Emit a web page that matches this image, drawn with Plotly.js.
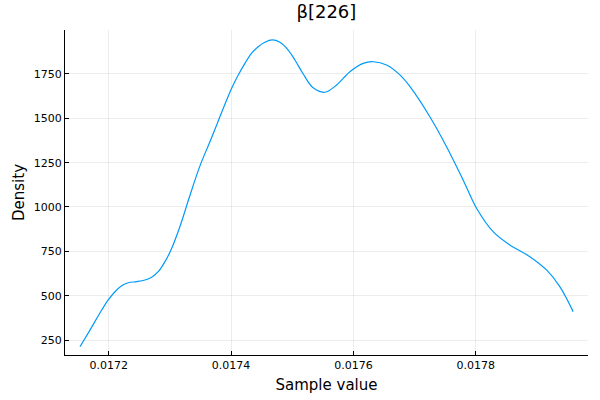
<!DOCTYPE html>
<html>
<head>
<meta charset="utf-8">
<script src="https://cdn.plot.ly/plotly-3.0.1.min.js"></script>
<style>body{margin:0;padding:0;}#plot{width:600px;height:400px;}</style>
</head>
<body>
<div id="plot"></div>
<script>
// sample values (x) and density estimates
var sampleValue = [0.0171531, 0.0171694, 0.0171886, 0.0171993, 0.0172103, 0.0172212,
  0.0172320, 0.0172458, 0.0172593, 0.0172703, 0.0172810, 0.0172920, 0.0173018,
  0.0173165, 0.0173328, 0.0173492, 0.0173655, 0.0174010, 0.0174118, 0.0174227,
  0.0174337, 0.0174444, 0.0174554, 0.0174673, 0.0174799, 0.0174935, 0.0175044,
  0.0175180, 0.0175343, 0.0175534, 0.0175726, 0.0175943, 0.0176160, 0.0176324,
  0.0176543, 0.0176760, 0.0176923, 0.0177250, 0.0177523, 0.0177794, 0.0178013,
  0.0178284, 0.0178557, 0.0178884, 0.0179157, 0.0179374, 0.0179592];
var density = [212, 306, 419, 476, 522, 556,
  573, 579, 588, 604, 635, 692, 757,
  890, 1065, 1232, 1368, 1669, 1744, 1810,
  1867, 1904, 1929, 1942, 1929, 1885, 1829,
  1750, 1672, 1647, 1688, 1763, 1810, 1819,
  1801, 1745, 1680, 1509, 1340, 1152, 993,
  861, 786, 720, 645, 551, 410];
var xTicks = [0.0172, 0.0174, 0.0176, 0.0178];
var yTicks = [250, 500, 750, 1000, 1250, 1500, 1750];

var trace = {
  x: sampleValue,
  y: density,
  type: 'scatter',
  mode: 'lines',
  line: {color: '#009AFA', width: 1.2, shape: 'spline', smoothing: 1},
  hoverinfo: 'x+y'
};

var axisCommon = {
  showline: true,
  linecolor: '#000',
  linewidth: 1,
  mirror: false,
  ticks: 'inside',
  ticklen: 4,
  tickcolor: '#000',
  showgrid: true,
  gridcolor: 'rgba(0,0,0,0.07)',
  gridwidth: 1,
  zeroline: false,
  tickfont: {family: 'DejaVu Sans', size: 11, color: '#000'}
};

var layout = {
  width: 600,
  height: 400,
  paper_bgcolor: '#fff',
  plot_bgcolor: '#fff',
  showlegend: false,
  font: {family: 'DejaVu Sans', color: '#000'},
  title: {text: 'β[226]', x: 0.544, xanchor: 'center', y: 0.97, yanchor: 'middle',
    font: {family: 'DejaVu Sans', size: 18, color: '#000'}},
  margin: {l: 65, r: 12, t: 30, b: 45},
  xaxis: Object.assign({}, axisCommon, {
    range: [0.0171286, 0.0179835],
    tickvals: xTicks,
    ticktext: xTicks.map(function(v){ return v.toFixed(4); }),
    title: {text: 'Sample value', standoff: 8, font: {family: 'DejaVu Sans', size: 15, color: '#000'}}
  }),
  yaxis: Object.assign({}, axisCommon, {
    range: [165.4, 1998],
    tickvals: yTicks,
    ticktext: yTicks.map(String),
    title: {text: 'Density', standoff: 5, font: {family: 'DejaVu Sans', size: 15, color: '#000'}}
  })
};

Plotly.newPlot('plot', [trace], layout, {displayModeBar: false, staticPlot: true});
</script>
</body>
</html>
